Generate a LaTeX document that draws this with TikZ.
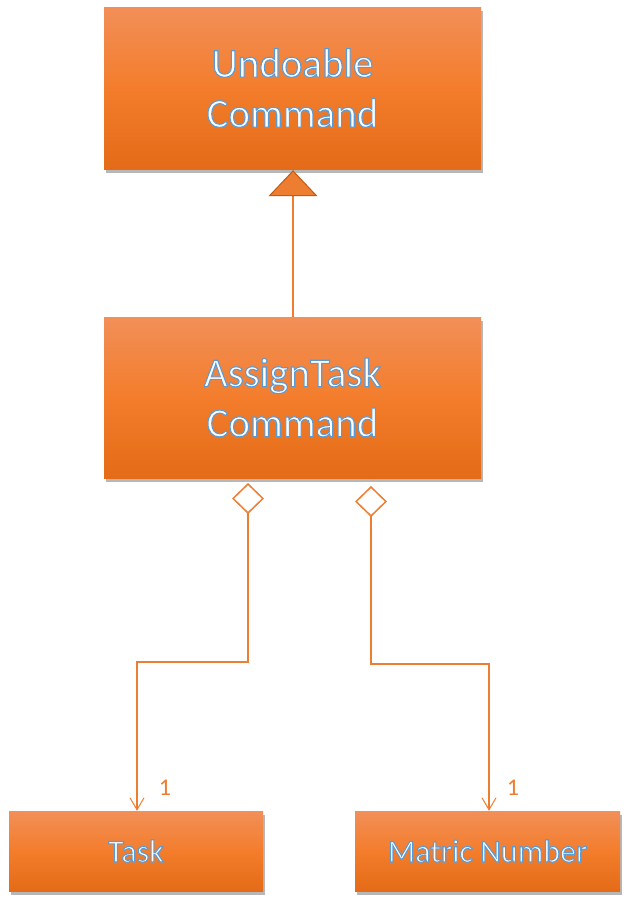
\documentclass[tikz,border=0pt]{standalone}
\usepackage{fontspec}
\setmainfont{Carlito}
\usetikzlibrary{arrows.meta,shadows}
\definecolor{otop}{RGB}{242,143,88}
\definecolor{omid}{RGB}{243,125,44}
\definecolor{obot}{RGB}{228,107,23}
\definecolor{oline}{RGB}{237,125,49}
\definecolor{odark}{RGB}{197,90,17}
\definecolor{glowc}{RGB}{91,155,213}
\newcommand\glow[1]{\leavevmode{\color{white}\special{pdf:literal direct 2 Tr 1.1 w 0.357 0.608 0.835 RG}#1\special{pdf:literal direct 0 Tr}}}
\begin{document}
\begin{tikzpicture}[x=1pt,y=-1pt,
  classbox/.style={rectangle, inner sep=0pt, top color=otop, bottom color=obot, middle color=omid,
    drop shadow={shadow xshift=2pt, shadow yshift=-4pt, opacity=0.4, fill=black!70}, align=center},
  bigtext/.style={font=\fontsize{41}{50}\selectfont},
  smalltext/.style={font=\fontsize{32}{38}\selectfont},
  inh/.style={draw=oline, line width=2.8pt, -{Triangle[width=49pt,length=26pt,fill=oline,color=odark,line width=1pt]}},
  agg/.style={draw=oline, line width=1.1pt, {Diamond[open,width=32pt,length=31pt,line width=1.5pt]}-{Straight Barb[length=12pt,width=14pt,line width=1pt]}},
  mult/.style={text=oline, font=\fontsize{24}{28}\selectfont, inner sep=0pt}]
\fill[white] (0,0) rectangle (633,905);
\useasboundingbox (0,0) rectangle (633,905);
\node[classbox, bigtext, minimum width=377pt, minimum height=162pt] (top) at (292.5,88) {\glow{Undoable}\\\glow{Command}};
\node[classbox, bigtext, minimum width=377pt, minimum height=161pt] (mid) at (292.5,397.5) {\glow{AssignTask}\\\glow{Command}};
\node[classbox, smalltext, minimum width=254pt, minimum height=80pt] (task) at (136,851) {\glow{Task}};
\node[classbox, smalltext, minimum width=265pt, minimum height=80pt] (matric) at (487.5,851) {\glow{Matric Number}};
\draw[inh] ([xshift=0.5pt]mid.north) -- ([xshift=0.5pt,yshift=-1pt]top.south);
\coordinate (s1) at (248,483);
\coordinate (k1) at (137,662);
\coordinate (s2) at (371,486);
\coordinate (k2) at (489,664);
\draw[agg] (s1) |- (k1) -- (k1 |- task.north);
\draw[agg] (s2) |- (k2) -- (k2 |- matric.north);
\node[mult] (m1) at (165,788) {1};
\node[mult] (m2) at (513,788) {1};
\end{tikzpicture}
\end{document}
